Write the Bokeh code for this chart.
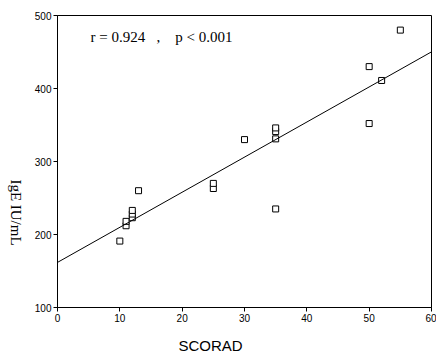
import numpy as np
from bokeh.plotting import figure
from bokeh.layouts import row
from bokeh.models import Label, Slope, FixedTicker, Range1d, Title
from bokeh.embed import file_html
from bokeh.resources import INLINE

# Data
scorad = [10, 11, 11, 12, 12, 12, 13, 25, 25, 30, 35, 35, 35, 35, 50, 50, 52, 55]
ige = [191, 212, 218, 223, 228, 233, 260, 263, 270, 330, 331, 341, 346, 235, 430, 352, 411, 480]
x_ticks = [0, 10, 20, 30, 40, 50, 60]
y_ticks = [100, 200, 300, 400, 500]
stat_text = "r = 0.924\u00a0\u00a0\u00a0,\u00a0\u00a0\u00a0\u00a0p\u00a0<\u00a00.001"
x_title = "SCORAD"
y_title = "IgE IU/mL"

slope_val, intercept_val = np.polyfit(np.array(scorad, float), np.array(ige, float), 1)

LBL_W = 30
TOTAL_H = 356

p = figure(frame_width=374, frame_height=292,
           min_border_left=57 - LBL_W, min_border_right=5, min_border_top=15, min_border_bottom=49,
           x_range=Range1d(x_ticks[0], x_ticks[-1]), y_range=Range1d(y_ticks[0], y_ticks[-1]),
           output_backend="svg", toolbar_location=None)

p.grid.visible = False
p.outline_line_color = "black"
p.outline_line_width = 1
p.background_fill_color = "white"
p.border_fill_color = "white"

for ax in (p.xaxis[0], p.yaxis[0]):
    ax.axis_line_color = "black"
    ax.major_tick_line_color = "black"
    ax.minor_tick_line_color = None
    ax.major_tick_in = 0
    ax.major_tick_out = 4
    ax.major_label_text_font = "Liberation Sans"
    ax.major_label_text_font_size = "10px"
    ax.major_label_text_color = "black"
    ax.major_label_standoff = 2

p.xaxis[0].ticker = FixedTicker(ticks=x_ticks)
p.yaxis[0].ticker = FixedTicker(ticks=y_ticks)

# x axis title, placed below the axis, left of centre
p.add_layout(Title(text=x_title, align="left", offset=121, standoff=21,
                   text_font="Liberation Sans", text_font_size="15px",
                   text_font_style="normal", text_color="black"), "below")

p.add_layout(Slope(gradient=slope_val, y_intercept=intercept_val,
                   line_color="black", line_width=1))

p.scatter(scorad, ige, marker="square", size=6, fill_color="white",
          line_color="black", line_width=1)

p.add_layout(Label(x=5.3, y=471, text=stat_text, text_font="Liberation Serif",
                   text_font_size="15px", text_color="black", text_baseline="middle"))

# narrow strip on the left carrying the y title, reading top to bottom
lab = figure(width=LBL_W, height=TOTAL_H, min_border=0,
             x_axis_type=None, y_axis_type=None,
             output_backend="svg", toolbar_location=None)
lab.outline_line_color = None
lab.grid.visible = False
lab.background_fill_color = "white"
lab.border_fill_color = "white"
lab.add_layout(Label(x=15.5, y=87, x_units="screen", y_units="screen",
                     text=y_title, text_font="Liberation Serif", text_font_size="15px",
                     text_color="black", text_align="center", text_baseline="middle",
                     angle=-np.pi / 2))

layout = row(lab, p)
open("out.html", "w").write(file_html(layout, INLINE))
